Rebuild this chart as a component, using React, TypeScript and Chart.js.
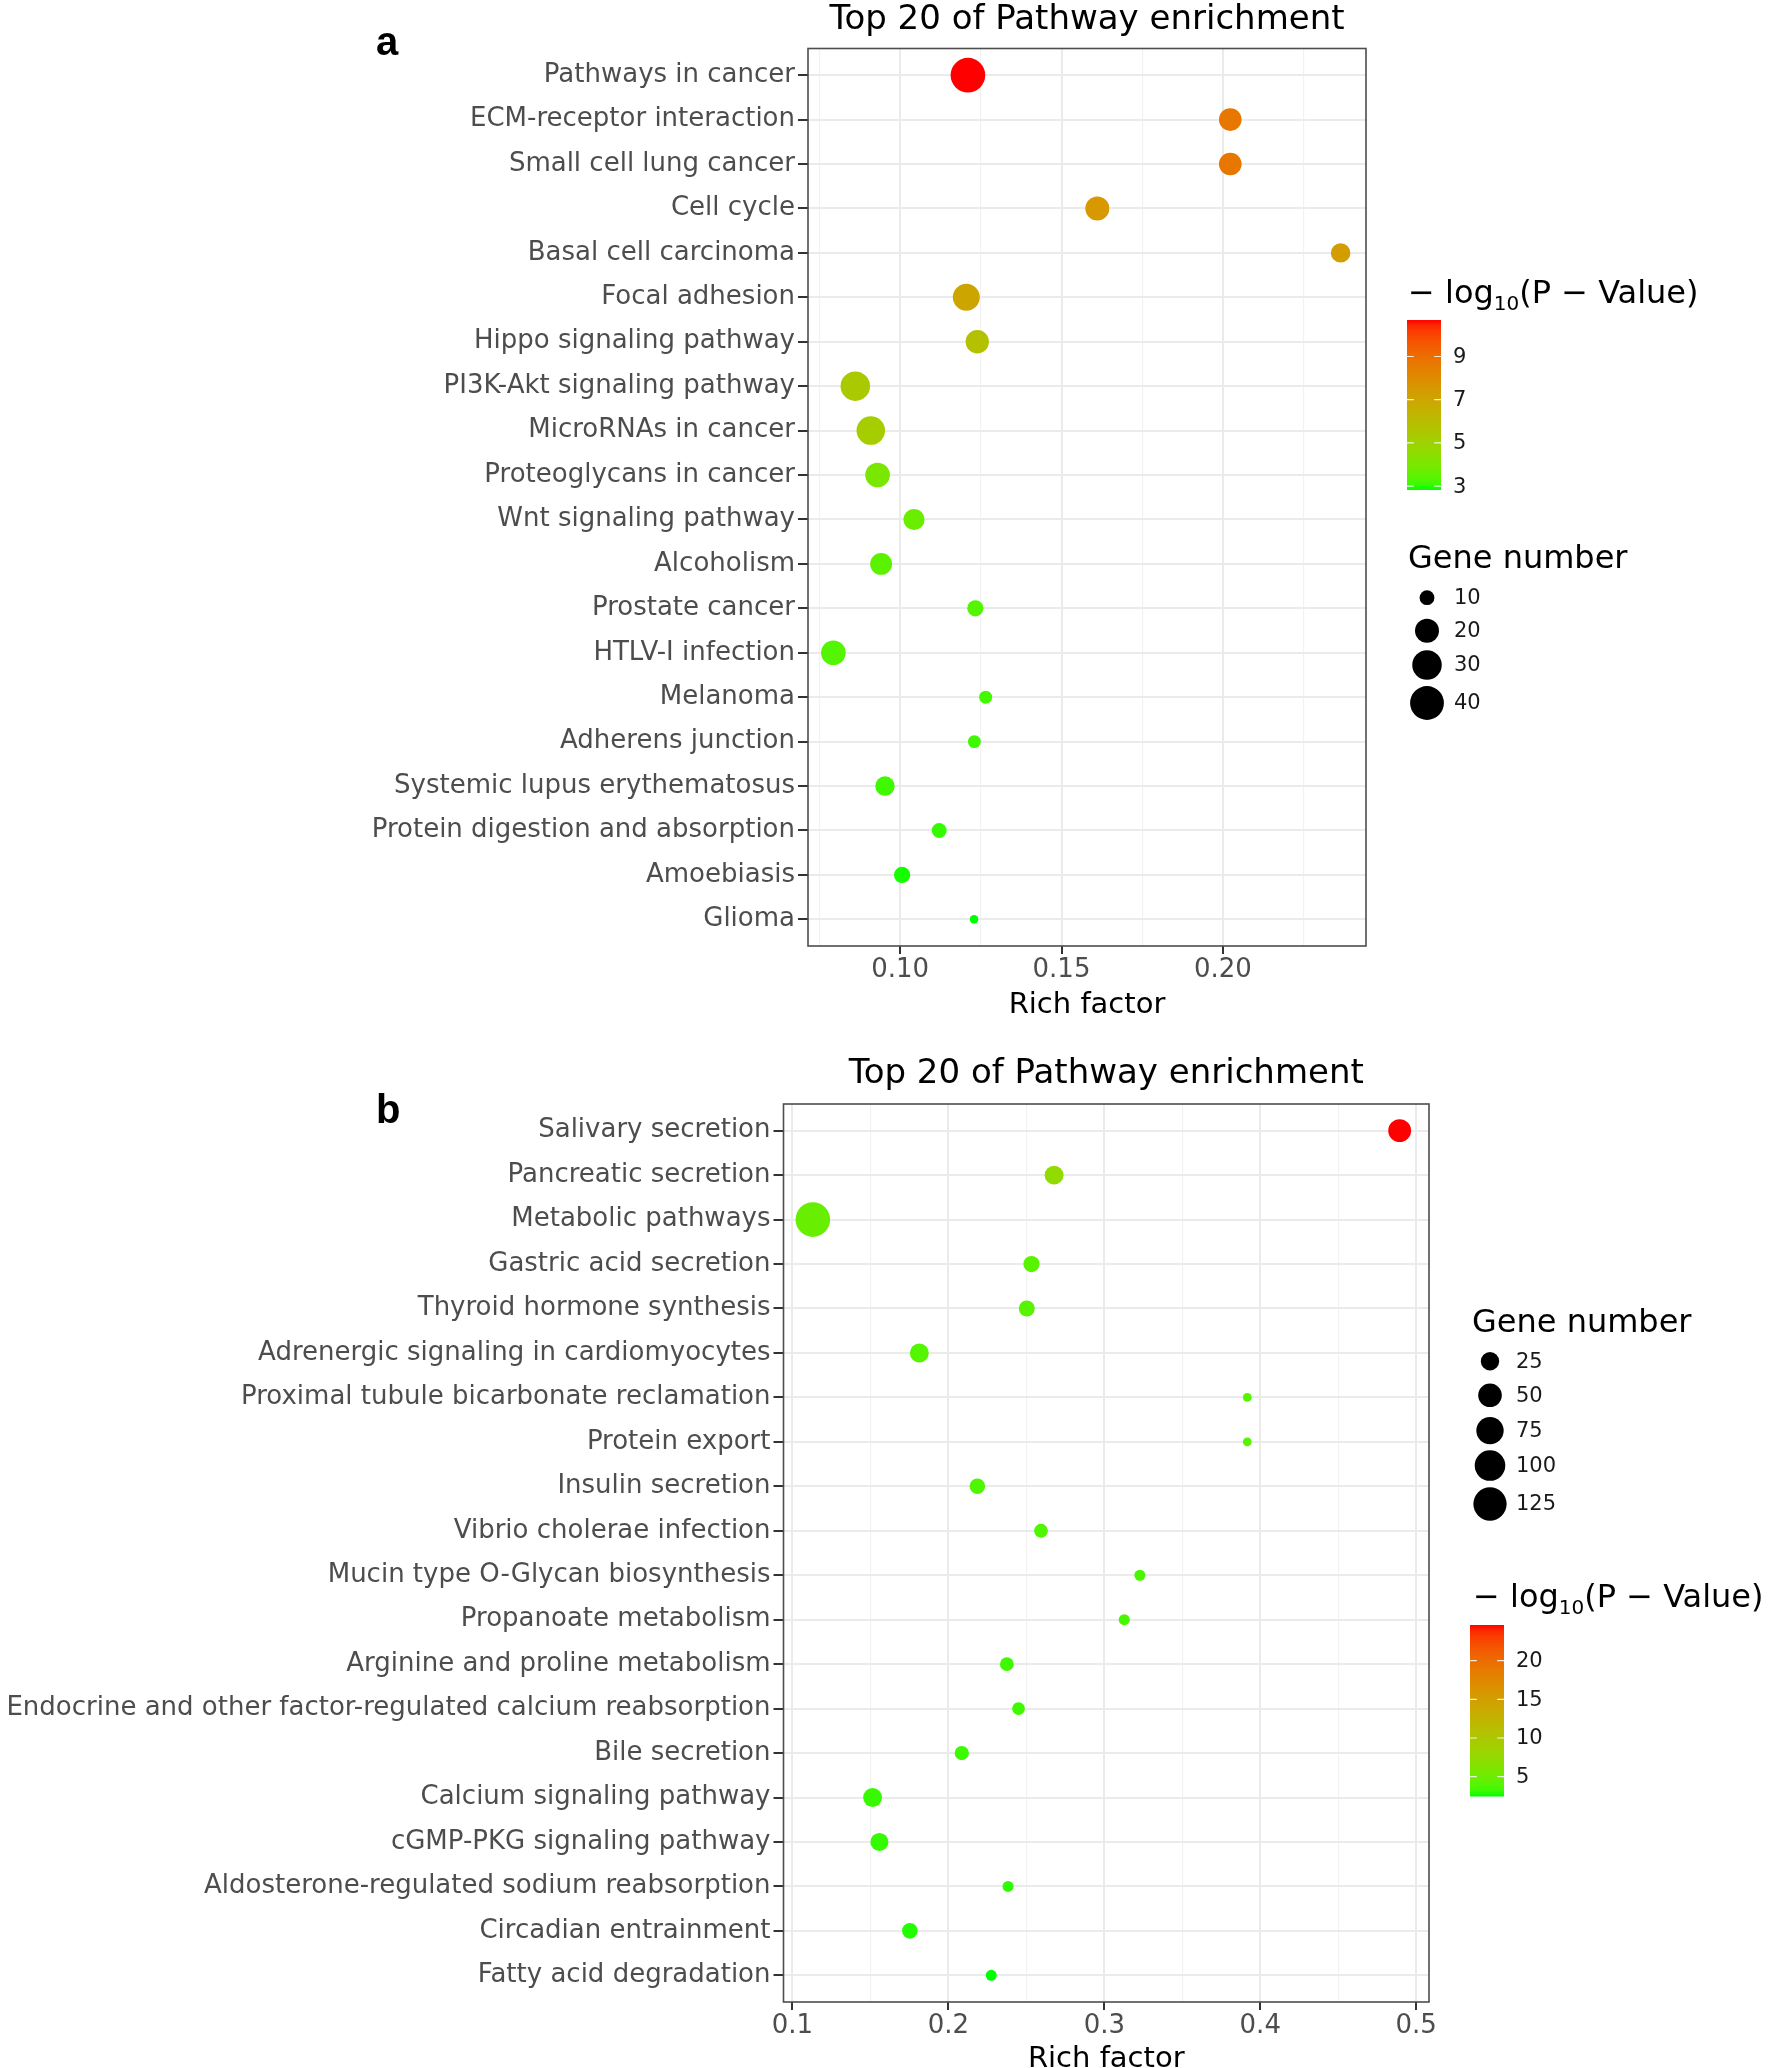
import React, { useEffect, useRef } from "react";
import { Chart, registerables } from "chart.js";

Chart.register(...registerables);

const FONT = '"DejaVu Sans", "Noto Sans", sans-serif';
const TITLE = "Top 20 of Pathway enrichment";

// ---------------- Panel a data ----------------
const pathwaysA = [
  "Pathways in cancer",
  "ECM-receptor interaction",
  "Small cell lung cancer",
  "Cell cycle",
  "Basal cell carcinoma",
  "Focal adhesion",
  "Hippo signaling pathway",
  "PI3K-Akt signaling pathway",
  "MicroRNAs in cancer",
  "Proteoglycans in cancer",
  "Wnt signaling pathway",
  "Alcoholism",
  "Prostate cancer",
  "HTLV-I infection",
  "Melanoma",
  "Adherens junction",
  "Systemic lupus erythematosus",
  "Protein digestion and absorption",
  "Amoebiasis",
  "Glioma",
];
const richFactorA = [
  0.121, 0.2023, 0.2023, 0.1611, 0.2365, 0.1205, 0.1239, 0.0861, 0.0909, 0.093,
  0.1043, 0.0941, 0.1233, 0.0793, 0.1265, 0.123, 0.0953, 0.1121, 0.1006, 0.1229,
];
const geneNumberA = [42, 18, 18, 20, 14, 25, 19, 30, 28, 21, 16, 17, 11, 21, 9, 9, 14, 10, 11, 8];
const negLogPA = [
  10.69, 8.72, 8.72, 7.54, 7.31, 6.99, 5.81, 5.42, 5.26, 4.0,
  3.69, 3.45, 3.33, 3.33, 3.13, 3.1, 3.1, 3.02, 2.86, 2.82,
];
const xMajorTicksA = [0.1, 0.15, 0.2];
const xMinorTicksA = [0.075, 0.125, 0.175, 0.225];
const sizeLegendA = [10, 20, 30, 40];
const colorTicksA = [3, 5, 7, 9];

// ---------------- Panel b data ----------------
const pathwaysB = [
  "Salivary secretion",
  "Pancreatic secretion",
  "Metabolic pathways",
  "Gastric acid secretion",
  "Thyroid hormone synthesis",
  "Adrenergic signaling in cardiomyocytes",
  "Proximal tubule bicarbonate reclamation",
  "Protein export",
  "Insulin secretion",
  "Vibrio cholerae infection",
  "Mucin type O-Glycan biosynthesis",
  "Propanoate metabolism",
  "Arginine and proline metabolism",
  "Endocrine and other factor-regulated calcium reabsorption",
  "Bile secretion",
  "Calcium signaling pathway",
  "cGMP-PKG signaling pathway",
  "Aldosterone-regulated sodium reabsorption",
  "Circadian entrainment",
  "Fatty acid degradation",
];
const richFactorB = [
  0.4894, 0.2678, 0.1131, 0.2533, 0.2503, 0.1814, 0.3917, 0.3917, 0.2186, 0.2594,
  0.3228, 0.3128, 0.2375, 0.245, 0.2086, 0.1514, 0.1558, 0.2383, 0.1753, 0.2275,
];
const geneNumberB = [46, 27, 138, 18, 17, 27, 7, 7, 16, 12, 8, 8, 12, 10, 13, 27, 24, 8, 16, 8];
const negLogPB = [
  24.6, 7.4, 4.8, 4.1, 4.1, 3.9, 3.9, 3.9, 3.7, 3.7,
  3.6, 3.5, 3.3, 3.3, 3.2, 3.1, 3.0, 2.9, 2.7, 2.44,
];
const xMajorTicksB = [0.1, 0.2, 0.3, 0.4, 0.5];
const xMinorTicksB = [0.15, 0.25, 0.35, 0.45];
const sizeLegendB = [25, 50, 75, 100, 125];
const colorTicksB = [5, 10, 15, 20];

// ---------------- colour (Lab interpolation, like ggplot2) ----------------
type RGB = [number, number, number];
const LOW: RGB = [0, 255, 0];
const HIGH: RGB = [255, 0, 0];
const Xn = 0.95047, Yn = 1, Zn = 1.08883;
const toLin = (c: number) => {
  c /= 255;
  return c <= 0.04045 ? c / 12.92 : Math.pow((c + 0.055) / 1.055, 2.4);
};
const fromLin = (c: number) => {
  const v = c <= 0.0031308 ? 12.92 * c : 1.055 * Math.pow(Math.max(c, 0), 1 / 2.4) - 0.055;
  return Math.round(Math.max(0, Math.min(1, v)) * 255);
};
function rgbToLab([r, g, b]: RGB) {
  const R = toLin(r), G = toLin(g), B = toLin(b);
  const X = (0.4124564 * R + 0.3575761 * G + 0.1804375 * B) / Xn;
  const Y = (0.2126729 * R + 0.7151522 * G + 0.072175 * B) / Yn;
  const Z = (0.0193339 * R + 0.119192 * G + 0.9503041 * B) / Zn;
  const f = (t: number) => (t > 216 / 24389 ? Math.cbrt(t) : ((24389 / 27) * t + 16) / 116);
  const fx = f(X), fy = f(Y), fz = f(Z);
  return [116 * fy - 16, 500 * (fx - fy), 200 * (fy - fz)];
}
function labToRgb(L: number, a: number, b: number) {
  const fy = (L + 16) / 116, fx = fy + a / 500, fz = fy - b / 200;
  const inv = (t: number) => (t ** 3 > 216 / 24389 ? t ** 3 : (116 * t - 16) / (24389 / 27));
  const X = inv(fx) * Xn, Y = inv(fy) * Yn, Z = inv(fz) * Zn;
  const R = 3.2404542 * X - 1.5371385 * Y - 0.4985314 * Z;
  const G = -0.969266 * X + 1.8760108 * Y + 0.041556 * Z;
  const B = 0.0556434 * X - 0.2040259 * Y + 1.0572252 * Z;
  return `rgb(${fromLin(R)},${fromLin(G)},${fromLin(B)})`;
}
const LAB_LOW = rgbToLab(LOW);
const LAB_HIGH = rgbToLab(HIGH);
function mix(t: number) {
  t = Math.max(0, Math.min(1, t));
  return labToRgb(
    LAB_LOW[0] + (LAB_HIGH[0] - LAB_LOW[0]) * t,
    LAB_LOW[1] + (LAB_HIGH[1] - LAB_LOW[1]) * t,
    LAB_LOW[2] + (LAB_HIGH[2] - LAB_LOW[2]) * t
  );
}

// ---------------- panel layout specs ----------------
interface Layout {
  height: number;
  top: number;
  plotLeft: number;
  plotRight: number;
  plotTop: number;
  plotBottom: number;
  titleY: number;
  letter: string;
  letterX: number;
  letterY: number;
  xTickPad: number;
  xTitlePad: number;
  xDecimals: number;
  dMin: number;
  dMax: number;
  colorbar: { x: number; y: number; w: number; h: number; titleX: number; titleY: number; labelX: number };
  sizeLeg: { titleX: number; titleY: number; cx: number; cys: number[]; labelX: number };
}

interface PanelData {
  labels: string[];
  rich: number[];
  genes: number[];
  logP: number[];
  xMajor: number[];
  xMinor: number[];
  sizeLegend: number[];
  colorTicks: number[];
}

const layoutA: Layout = {
  height: 1040,
  top: 0,
  plotLeft: 808,
  plotRight: 1366,
  plotTop: 48.5,
  plotBottom: 946,
  titleY: 29,
  letter: "a",
  letterX: 376,
  letterY: 55,
  xTickPad: 1,
  xTitlePad: 17.6,
  xDecimals: 2,
  dMin: 8.5,
  dMax: 34.6,
  colorbar: { x: 1407, y: 320, w: 34, h: 170, titleX: 1408, titleY: 303, labelX: 1453 },
  sizeLeg: { titleX: 1408, titleY: 568, cx: 1427, cys: [597.7, 630.7, 665, 703], labelX: 1454 },
};

const layoutB: Layout = {
  height: 1060,
  top: 1040,
  plotLeft: 783.5,
  plotRight: 1429,
  plotTop: 64,
  plotBottom: 962,
  titleY: 43,
  letter: "b",
  letterX: 376,
  letterY: 83,
  xTickPad: 0.4,
  xTitlePad: 23.2,
  xDecimals: 1,
  dMin: 8.8,
  dMax: 34.6,
  colorbar: { x: 1470, y: 585, w: 34, h: 171.5, titleX: 1473, titleY: 567, labelX: 1516 },
  sizeLeg: { titleX: 1472, titleY: 291.7, cx: 1490, cys: [321.3, 355.3, 390.6, 425.6, 464], labelX: 1516 },
};

const panelA: PanelData = {
  labels: pathwaysA,
  rich: richFactorA,
  genes: geneNumberA,
  logP: negLogPA,
  xMajor: xMajorTicksA,
  xMinor: xMinorTicksA,
  sizeLegend: sizeLegendA,
  colorTicks: colorTicksA,
};
const panelB: PanelData = {
  labels: pathwaysB,
  rich: richFactorB,
  genes: geneNumberB,
  logP: negLogPB,
  xMajor: xMajorTicksB,
  xMinor: xMinorTicksB,
  sizeLegend: sizeLegendB,
  colorTicks: colorTicksB,
};

const W = 1770;
const LEG_LABEL = 21;

function drawLogTitle(ctx: CanvasRenderingContext2D, x: number, y: number) {
  ctx.fillStyle = "#000";
  ctx.textAlign = "left";
  ctx.textBaseline = "alphabetic";
  ctx.font = `32px ${FONT}`;
  ctx.fillText("\u2212 log", x, y);
  let cx = x + ctx.measureText("\u2212 log").width;
  ctx.font = `20px ${FONT}`;
  ctx.fillText("10", cx, y + 7);
  cx += ctx.measureText("10").width;
  ctx.font = `32px ${FONT}`;
  ctx.fillText("(P \u2212 Value)", cx, y);
}

function buildChart(canvas: HTMLCanvasElement, d: PanelData, L: Layout) {
  const n = d.labels.length;
  const xmin0 = Math.min(...d.rich), xmax0 = Math.max(...d.rich);
  const span = xmax0 - xmin0;
  const xMin = xmin0 - 0.05 * span;
  const xMax = xmax0 + 0.05 * span;
  const gMin = Math.min(...d.genes), gMax = Math.max(...d.genes);
  const radius = (g: number) =>
    (L.dMin + (L.dMax - L.dMin) * Math.sqrt(Math.max(0, (g - gMin) / (gMax - gMin)))) / 2;
  const lo = Math.min(...d.logP), hi = Math.max(...d.logP);
  const colorOf = (v: number) => mix((v - lo) / (hi - lo));

  const points = d.labels.map((_, i) => ({ x: d.rich[i], y: i, r: radius(d.genes[i]) }));
  const colors = d.logP.map(colorOf);

  const xTickVals = [...d.xMajor, ...d.xMinor].sort((a, b) => a - b);
  const isMajor = (v: number) => d.xMajor.some((m) => Math.abs(m - v) < 1e-9);

  const mctx = document.createElement("canvas").getContext("2d")!;
  mctx.font = `26px ${FONT}`;
  const maxLabelW = L.plotLeft - 13;
  const labelSizes = d.labels.map((t) => {
    const w = mctx.measureText(t).width;
    return w > maxLabelW ? (26 * maxLabelW) / w : 26;
  });

  const decor = {
    id: "decor",
    afterDatasetsDraw(chart: any) {
      const { ctx, chartArea: a } = chart;
      ctx.save();
      ctx.strokeStyle = "#4d4d4d";
      ctx.lineWidth = 1.6;
      ctx.strokeRect(a.left, a.top, a.right - a.left, a.bottom - a.top);
      ctx.restore();
    },
    afterDraw(chart: any) {
      const { ctx, chartArea: a } = chart;
      ctx.save();
      ctx.fillStyle = "#000";
      ctx.font = `34px ${FONT}`;
      ctx.textAlign = "center";
      ctx.textBaseline = "alphabetic";
      ctx.fillText(TITLE, (a.left + a.right) / 2, L.titleY);
      ctx.font = `bold 40px "Liberation Sans", Arial, sans-serif`;
      ctx.textAlign = "left";
      ctx.fillText(L.letter, L.letterX, L.letterY);

      // colour bar legend
      const cb = L.colorbar;
      drawLogTitle(ctx, cb.titleX, cb.titleY);
      const grad = ctx.createLinearGradient(0, cb.y + cb.h, 0, cb.y);
      for (let i = 0; i <= 30; i++) grad.addColorStop(i / 30, mix(i / 30));
      ctx.fillStyle = grad;
      ctx.fillRect(cb.x, cb.y, cb.w, cb.h);
      ctx.font = `${LEG_LABEL}px ${FONT}`;
      ctx.textBaseline = "middle";
      ctx.textAlign = "left";
      d.colorTicks.forEach((v) => {
        const yy = cb.y + cb.h - ((v - lo) / (hi - lo)) * cb.h;
        ctx.strokeStyle = "rgba(255,255,255,0.85)";
        ctx.lineWidth = 1.2;
        ctx.beginPath();
        ctx.moveTo(cb.x, yy);
        ctx.lineTo(cb.x + cb.w * 0.2, yy);
        ctx.moveTo(cb.x + cb.w * 0.8, yy);
        ctx.lineTo(cb.x + cb.w, yy);
        ctx.stroke();
        ctx.fillStyle = "#1a1a1a";
        ctx.fillText(String(v), cb.labelX, yy + 1);
      });

      // size legend
      const sl = L.sizeLeg;
      ctx.fillStyle = "#000";
      ctx.font = `32px ${FONT}`;
      ctx.textBaseline = "alphabetic";
      ctx.fillText("Gene number", sl.titleX, sl.titleY);
      ctx.font = `${LEG_LABEL}px ${FONT}`;
      ctx.textBaseline = "middle";
      d.sizeLegend.forEach((v, i) => {
        ctx.fillStyle = "#000";
        ctx.beginPath();
        ctx.arc(sl.cx, sl.cys[i], radius(v), 0, Math.PI * 2);
        ctx.fill();
        ctx.fillStyle = "#1a1a1a";
        ctx.fillText(String(v), sl.labelX, sl.cys[i] + 1);
      });
      ctx.restore();
    },
  };

  return new Chart(canvas, {
    type: "bubble",
    data: {
      datasets: [
        {
          data: points as any,
          backgroundColor: colors,
          borderWidth: 0,
          borderColor: "rgba(0,0,0,0)",
          hoverRadius: 0,
        } as any,
      ],
    },
    options: {
      animation: false,
      responsive: false,
      maintainAspectRatio: false,
      devicePixelRatio: 1,
      events: [],
      clip: false as any,
      layout: {
        padding: { left: 0, right: W - L.plotRight, top: L.plotTop, bottom: 0 },
      },
      plugins: {
        legend: { display: false },
        tooltip: { enabled: false },
        title: { display: false },
      },
      scales: {
        x: {
          type: "linear",
          position: "bottom",
          min: xMin,
          max: xMax,
          afterBuildTicks: (s: any) => {
            s.ticks = xTickVals.map((v) => ({ value: v }));
          },
          afterFit: (s: any) => {
            s.height = L.height - L.plotBottom;
          },
          ticks: {
            autoSkip: false,
            maxRotation: 0,
            padding: L.xTickPad,
            color: "#4d4d4d",
            font: { family: FONT, size: 26 },
            callback: (v: any) => (isMajor(Number(v)) ? Number(v).toFixed(L.xDecimals) : ""),
          },
          grid: {
            color: (c: any) => (c.tick && isMajor(c.tick.value) ? "#ebebeb" : "#f2f2f2"),
            lineWidth: (c: any) => (c.tick && isMajor(c.tick.value) ? 2 : 1.2),
            tickLength: 8,
            tickColor: (c: any) => (c.tick && isMajor(c.tick.value) ? "#333333" : "rgba(0,0,0,0)"),
            tickWidth: 2,
          },
          border: { display: false },
          title: {
            display: true,
            text: "Rich factor",
            color: "#000",
            font: { family: FONT, size: 29 },
            padding: { top: 0, bottom: L.xTitlePad },
          },
        },
        y: {
          type: "linear",
          min: -0.6,
          max: n - 1 + 0.6,
          reverse: true,
          afterBuildTicks: (s: any) => {
            s.ticks = d.labels.map((_, i) => ({ value: i }));
          },
          afterFit: (s: any) => {
            s.width = L.plotLeft;
          },
          ticks: {
            autoSkip: false,
            padding: 3,
            color: "#4d4d4d",
            font: (c: any) => ({ family: FONT, size: labelSizes[c.index] ?? 26 }),
            callback: (v: any) => d.labels[Math.round(Number(v))] ?? "",
          },
          grid: {
            color: "#ebebeb",
            lineWidth: 2,
            tickLength: 10,
            tickColor: "#333333",
            tickWidth: 2,
          },
          border: { display: false },
        },
      },
    } as any,
    plugins: [decor],
  });
}

function Panel({ data, layout }: { data: PanelData; layout: Layout }) {
  const ref = useRef<HTMLCanvasElement | null>(null);
  useEffect(() => {
    if (!ref.current) return;
    const chart = buildChart(ref.current, data, layout);
    return () => chart.destroy();
  }, [data, layout]);
  return (
    <canvas
      ref={ref}
      width={W}
      height={layout.height}
      style={{ position: "absolute", left: 0, top: layout.top, width: W, height: layout.height }}
    />
  );
}

export default function App() {
  return (
    <div
      style={{
        position: "fixed",
        left: 0,
        top: 0,
        width: W,
        height: 2068,
        overflow: "hidden",
        background: "#ffffff",
      }}
    >
      <Panel data={panelA} layout={layoutA} />
      <Panel data={panelB} layout={layoutB} />
    </div>
  );
}
